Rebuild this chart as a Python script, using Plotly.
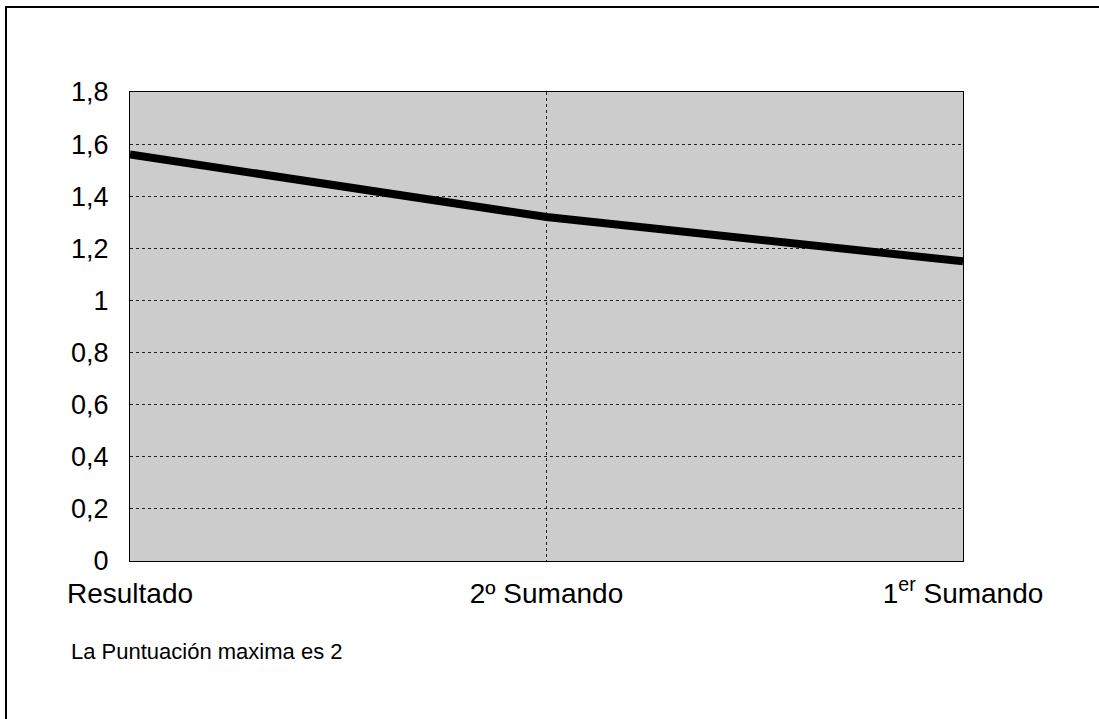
import plotly.graph_objects as go

# Categories along the horizontal axis and the score for each one
categorias = ["Resultado", "2º Sumando", "1<sup>er</sup> Sumando"]
puntuacion = [1.56, 1.32, 1.15]

# Y-axis ticks (decimal comma labels)
y_ticks = [0, 0.2, 0.4, 0.6, 0.8, 1.0, 1.2, 1.4, 1.6, 1.8]
y_labels = ["0", "0,2", "0,4", "0,6", "0,8", "1", "1,2", "1,4", "1,6", "1,8"]

W, H = 1099, 719
L, R, T, B = 130, 136, 92, 158
pw, ph = W - L - R, H - T - B


def px_x(p):
    return (p - L) / pw


def px_y(p):
    return (H - B - p) / ph


font = "Liberation Sans, Arial, sans-serif"

fig = go.Figure()
fig.add_trace(go.Scatter(
    x=categorias,
    y=puntuacion,
    mode="lines",
    line=dict(color="black", width=8),
    hoverinfo="skip",
    showlegend=False,
))

frame = dict(color="black", width=2)

fig.update_layout(
    width=W,
    height=H,
    margin=dict(l=L, r=R, t=T, b=B, pad=0),
    paper_bgcolor="white",
    plot_bgcolor="#cccccc",
    font=dict(family=font, color="black", size=26),
    showlegend=False,
    xaxis=dict(
        type="category",
        range=[0, 2],
        showgrid=True,
        gridcolor="#222222",
        griddash="dot",
        gridwidth=1,
        showline=True,
        linecolor="black",
        linewidth=1,
        mirror=True,
        ticks="",
        tickfont=dict(family=font, size=28, color="black"),
        ticklabelstandoff=7,
        zeroline=False,
        fixedrange=True,
    ),
    yaxis=dict(
        range=[0, 1.8],
        tickvals=y_ticks,
        ticktext=y_labels,
        showgrid=True,
        gridcolor="#222222",
        griddash="dot",
        gridwidth=1,
        showline=True,
        linecolor="black",
        linewidth=1,
        mirror=True,
        ticks="",
        tickfont=dict(family=font, size=27, color="black"),
        ticklabelstandoff=15,
        zeroline=False,
        fixedrange=True,
    ),
    shapes=[
        # outer frame: top and left edges
        dict(type="line", xref="paper", yref="paper",
             x0=px_x(5), x1=1 + (R / pw), y0=px_y(7), y1=px_y(7), line=frame),
        dict(type="line", xref="paper", yref="paper",
             x0=px_x(6), x1=px_x(6), y0=px_y(6), y1=-(B / ph), line=frame),
    ],
    annotations=[
        dict(
            text="La Puntuación maxima es 2",
            xref="paper", yref="paper",
            x=px_x(69), y=px_y(651),
            xanchor="left", yanchor="middle",
            showarrow=False,
            font=dict(family=font, size=22, color="black"),
        )
    ],
)

fig.write_html("out.html")
